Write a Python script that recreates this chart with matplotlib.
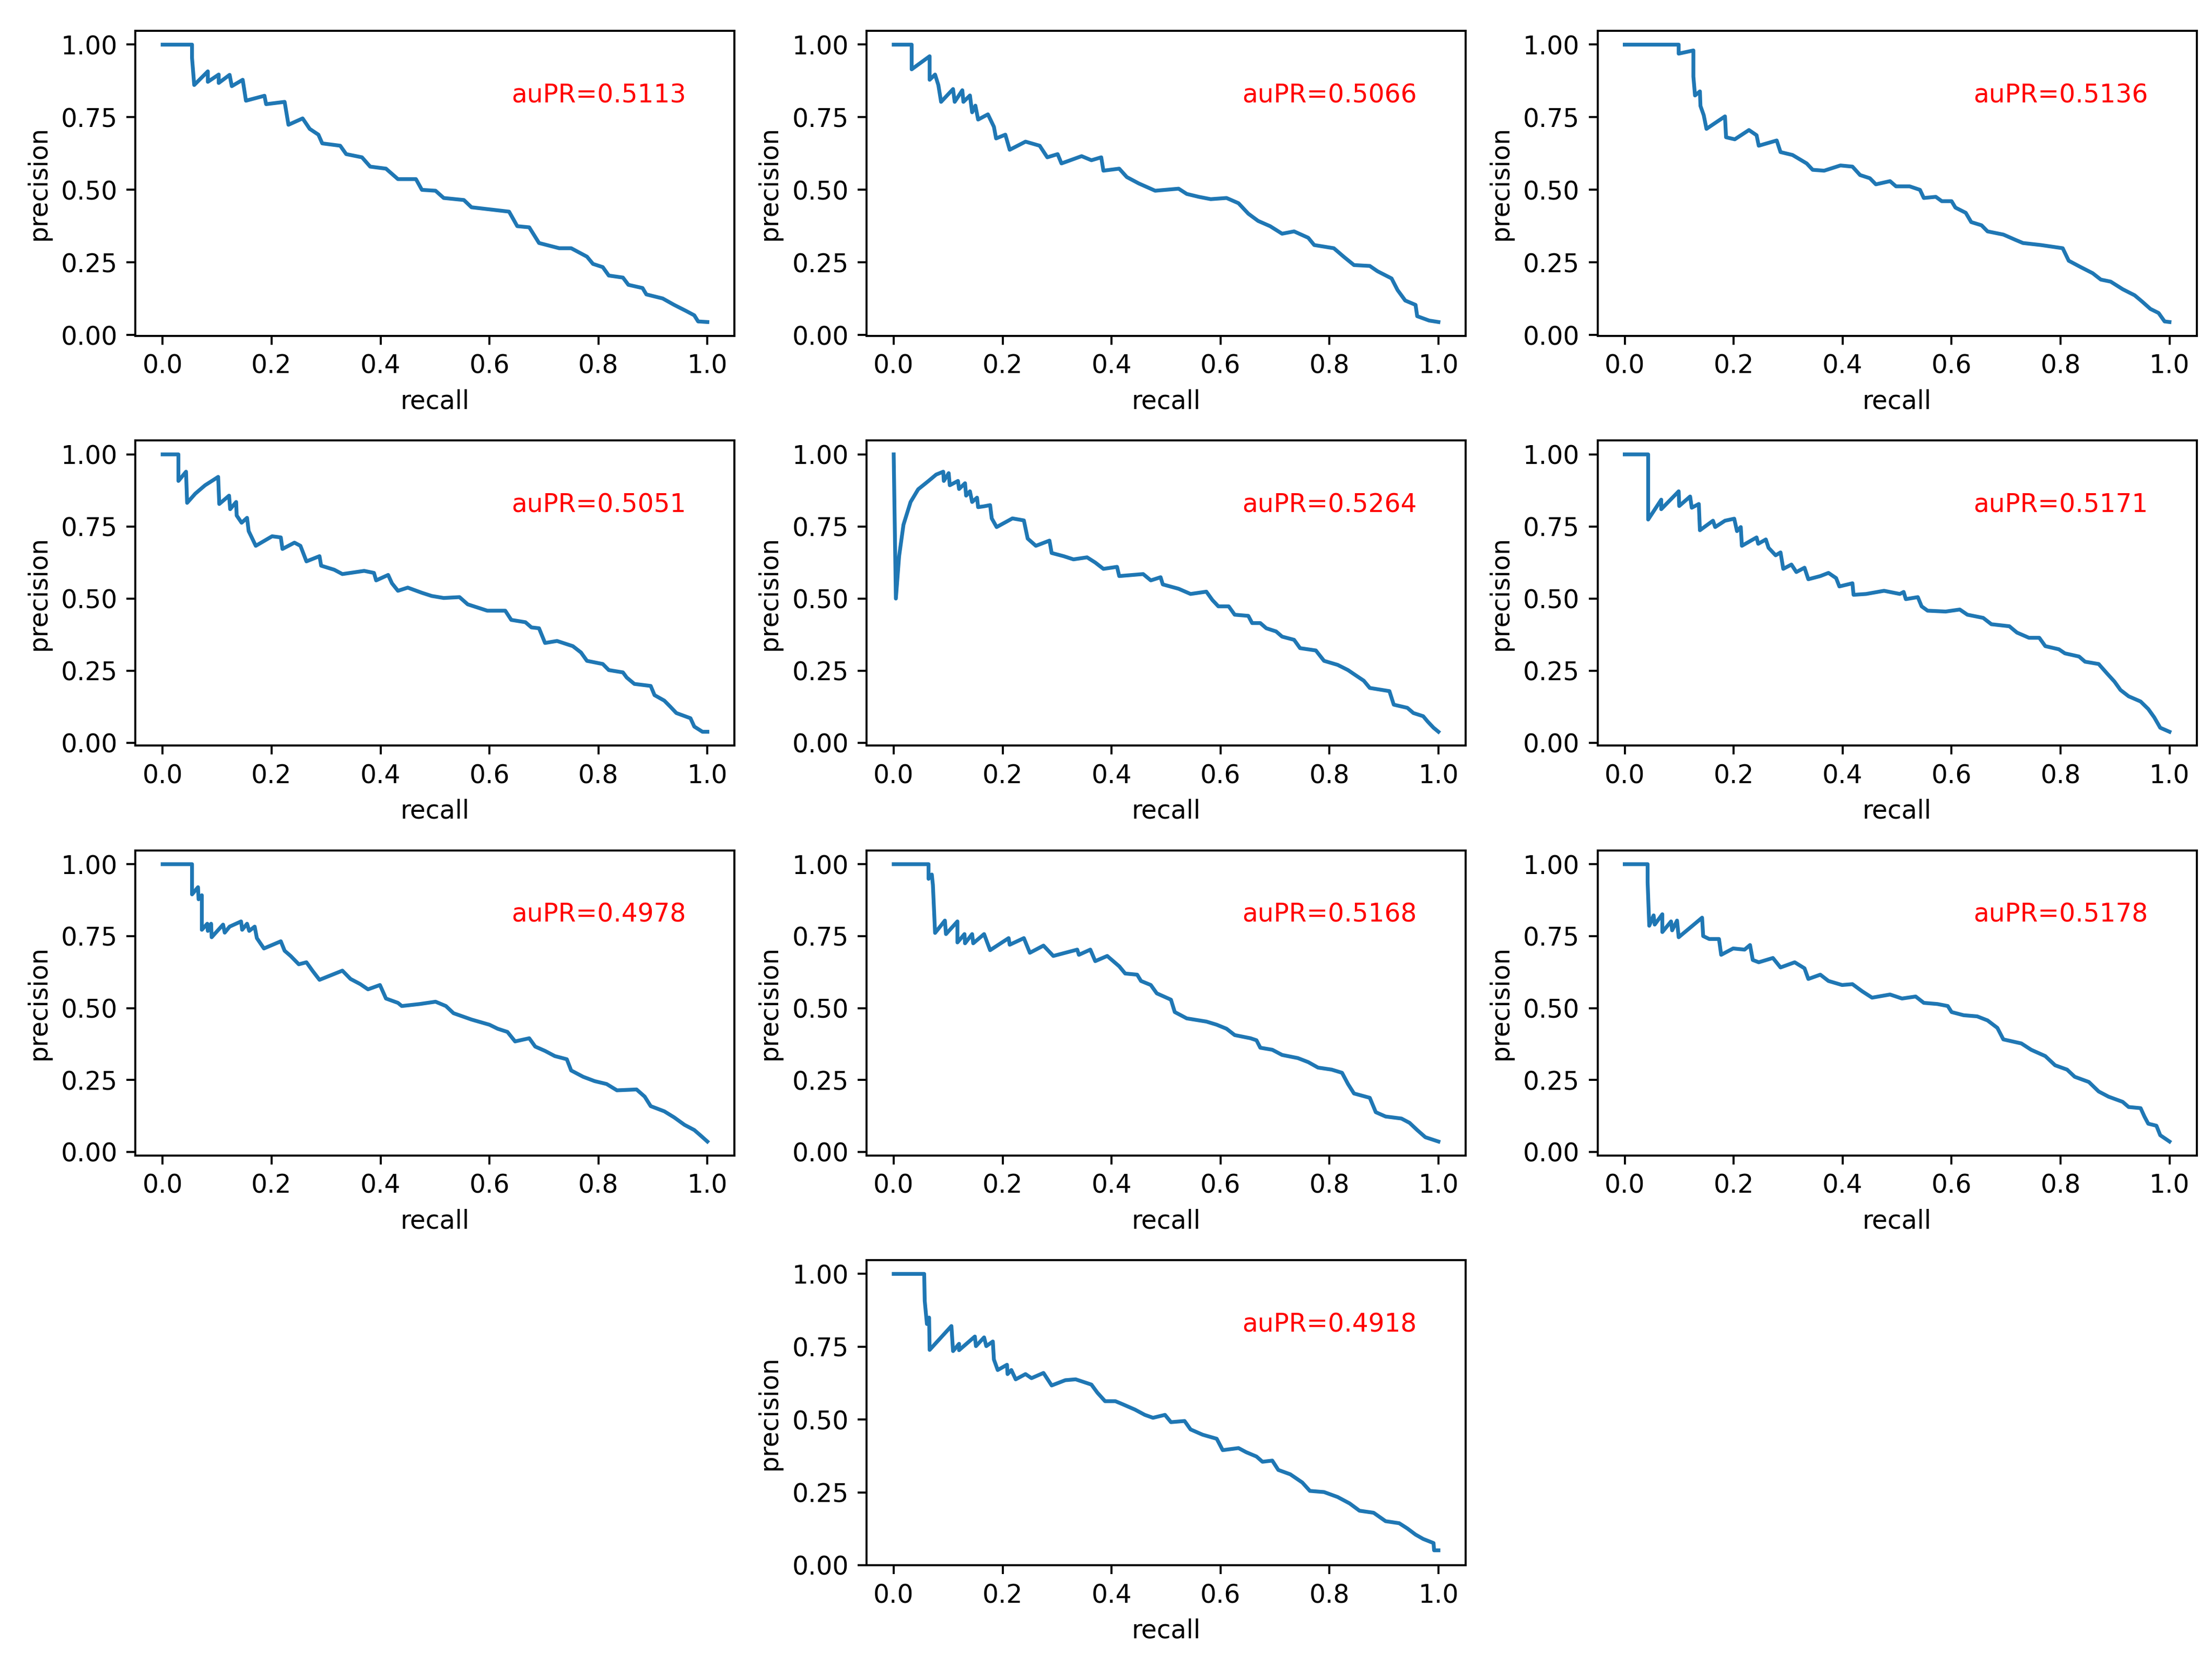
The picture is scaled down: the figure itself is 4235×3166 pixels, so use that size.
import matplotlib as mpl
mpl.use('Agg')
import matplotlib.pyplot as plt
import numpy as np


# auPR value printed on each panel
auprs = [0.5113, 0.5066, 0.5136, 0.5051, 0.5264, 0.5171, 0.4978, 0.5168, 0.5178, 0.4918]

# precision-recall curves
rec1 = [0.0, 0.054, 0.054, 0.058, 0.083, 0.083, 0.103, 0.103, 0.123, 0.127, 0.147, 0.153, 0.187, 0.19, 0.224, 0.231, 0.257, 0.27, 0.286, 0.293, 0.326, 0.337, 0.366, 0.381, 0.41, 0.432, 0.465, 0.476, 0.501, 0.516, 0.553, 0.567, 0.604, 0.636, 0.651, 0.673, 0.691, 0.728, 0.75, 0.779, 0.79, 0.808, 0.819, 0.845, 0.855, 0.881, 0.888, 0.918, 0.939, 0.961, 0.976, 0.983, 1.0]
prec1 = [1.0, 1.0, 0.954, 0.861, 0.908, 0.872, 0.897, 0.868, 0.896, 0.857, 0.879, 0.807, 0.824, 0.795, 0.803, 0.724, 0.746, 0.71, 0.69, 0.66, 0.652, 0.623, 0.612, 0.58, 0.573, 0.537, 0.537, 0.50, 0.497, 0.472, 0.465, 0.44, 0.432, 0.425, 0.375, 0.371, 0.317, 0.299, 0.299, 0.27, 0.245, 0.234, 0.205, 0.198, 0.173, 0.162, 0.14, 0.126, 0.104, 0.083, 0.068, 0.047, 0.045]

rec2 = [0.0, 0.033, 0.033, 0.066, 0.066, 0.076, 0.082, 0.087, 0.109, 0.112, 0.126, 0.128, 0.14, 0.144, 0.15, 0.155, 0.173, 0.184, 0.188, 0.205, 0.213, 0.242, 0.268, 0.282, 0.301, 0.308, 0.345, 0.363, 0.381, 0.385, 0.414, 0.428, 0.45, 0.48, 0.523, 0.538, 0.56, 0.582, 0.611, 0.633, 0.651, 0.669, 0.691, 0.713, 0.735, 0.761, 0.772, 0.808, 0.826, 0.845, 0.874, 0.888, 0.914, 0.925, 0.939, 0.958, 0.961, 0.983, 1.0]
prec2 = [1.0, 1.0, 0.915, 0.96, 0.879, 0.897, 0.861, 0.803, 0.847, 0.803, 0.843, 0.803, 0.825, 0.767, 0.79, 0.742, 0.76, 0.717, 0.677, 0.69, 0.638, 0.666, 0.652, 0.612, 0.623, 0.591, 0.616, 0.602, 0.612, 0.566, 0.573, 0.544, 0.522, 0.497, 0.504, 0.486, 0.476, 0.468, 0.472, 0.454, 0.418, 0.393, 0.375, 0.349, 0.357, 0.335, 0.31, 0.299, 0.27, 0.241, 0.238, 0.22, 0.195, 0.155, 0.119, 0.104, 0.065, 0.05, 0.045]

rec3 = [0.0, 0.099, 0.099, 0.126, 0.126, 0.129, 0.138, 0.139, 0.145, 0.15, 0.184, 0.186, 0.202, 0.228, 0.242, 0.246, 0.279, 0.286, 0.308, 0.334, 0.345, 0.366, 0.396, 0.418, 0.432, 0.45, 0.461, 0.487, 0.498, 0.523, 0.542, 0.549, 0.571, 0.582, 0.6, 0.607, 0.626, 0.636, 0.655, 0.666, 0.695, 0.717, 0.731, 0.764, 0.804, 0.815, 0.837, 0.859, 0.874, 0.892, 0.914, 0.936, 0.95, 0.965, 0.98, 0.991, 1.0]
prec3 = [1.0, 1.0, 0.969, 0.98, 0.89, 0.825, 0.839, 0.789, 0.757, 0.71, 0.753, 0.681, 0.674, 0.706, 0.688, 0.652, 0.67, 0.63, 0.62, 0.591, 0.569, 0.566, 0.584, 0.58, 0.551, 0.54, 0.519, 0.53, 0.512, 0.512, 0.5, 0.472, 0.476, 0.461, 0.461, 0.439, 0.421, 0.389, 0.378, 0.357, 0.346, 0.328, 0.317, 0.31, 0.299, 0.256, 0.234, 0.213, 0.191, 0.184, 0.158, 0.137, 0.115, 0.09, 0.076, 0.047, 0.045]

rec4 = [0.0, 0.029, 0.029, 0.043, 0.045, 0.06, 0.078, 0.102, 0.104, 0.122, 0.124, 0.135, 0.136, 0.145, 0.155, 0.158, 0.171, 0.201, 0.217, 0.22, 0.242, 0.253, 0.264, 0.288, 0.291, 0.315, 0.33, 0.37, 0.388, 0.392, 0.414, 0.421, 0.432, 0.45, 0.476, 0.494, 0.516, 0.545, 0.56, 0.578, 0.596, 0.629, 0.64, 0.666, 0.677, 0.691, 0.702, 0.724, 0.753, 0.768, 0.779, 0.808, 0.819, 0.845, 0.852, 0.866, 0.896, 0.903, 0.921, 0.932, 0.943, 0.969, 0.976, 0.991, 1.0]
prec4 = [1.0, 1.0, 0.908, 0.94, 0.832, 0.864, 0.893, 0.922, 0.828, 0.857, 0.81, 0.835, 0.788, 0.763, 0.78, 0.734, 0.683, 0.716, 0.712, 0.672, 0.694, 0.683, 0.629, 0.647, 0.614, 0.6, 0.585, 0.596, 0.589, 0.563, 0.582, 0.553, 0.527, 0.538, 0.52, 0.509, 0.502, 0.505, 0.48, 0.469, 0.458, 0.458, 0.426, 0.418, 0.4, 0.397, 0.346, 0.353, 0.335, 0.313, 0.284, 0.273, 0.252, 0.244, 0.226, 0.204, 0.197, 0.165, 0.146, 0.125, 0.103, 0.085, 0.056, 0.038, 0.038]

rec5 = [0.0, 0.004, 0.01, 0.018, 0.031, 0.045, 0.064, 0.078, 0.091, 0.092, 0.101, 0.103, 0.118, 0.12, 0.131, 0.133, 0.14, 0.144, 0.153, 0.155, 0.166, 0.177, 0.18, 0.189, 0.218, 0.239, 0.246, 0.261, 0.286, 0.29, 0.312, 0.33, 0.355, 0.37, 0.385, 0.41, 0.414, 0.458, 0.472, 0.49, 0.494, 0.523, 0.545, 0.574, 0.585, 0.596, 0.615, 0.626, 0.651, 0.658, 0.673, 0.684, 0.702, 0.713, 0.735, 0.746, 0.775, 0.79, 0.815, 0.834, 0.848, 0.863, 0.874, 0.91, 0.918, 0.943, 0.954, 0.972, 0.98, 0.991, 1.0]
prec5 = [1.0, 0.5, 0.647, 0.756, 0.835, 0.879, 0.908, 0.93, 0.94, 0.908, 0.935, 0.893, 0.908, 0.88, 0.90, 0.857, 0.872, 0.835, 0.85, 0.817, 0.82, 0.824, 0.778, 0.748, 0.778, 0.771, 0.708, 0.683, 0.701, 0.658, 0.647, 0.636, 0.643, 0.625, 0.603, 0.61, 0.578, 0.585, 0.563, 0.574, 0.549, 0.534, 0.516, 0.524, 0.495, 0.473, 0.473, 0.444, 0.44, 0.415, 0.415, 0.397, 0.386, 0.368, 0.357, 0.328, 0.32, 0.284, 0.27, 0.252, 0.234, 0.215, 0.19, 0.179, 0.132, 0.121, 0.103, 0.092, 0.074, 0.052, 0.038]

rec6 = [0.0, 0.043, 0.043, 0.067, 0.067, 0.099, 0.1, 0.12, 0.123, 0.136, 0.138, 0.162, 0.166, 0.184, 0.201, 0.206, 0.213, 0.215, 0.242, 0.245, 0.259, 0.264, 0.277, 0.286, 0.291, 0.306, 0.315, 0.33, 0.337, 0.359, 0.374, 0.388, 0.394, 0.418, 0.42, 0.443, 0.476, 0.505, 0.512, 0.516, 0.538, 0.545, 0.556, 0.589, 0.615, 0.629, 0.658, 0.673, 0.706, 0.72, 0.742, 0.761, 0.772, 0.797, 0.808, 0.834, 0.845, 0.87, 0.885, 0.899, 0.91, 0.925, 0.947, 0.961, 0.972, 0.983, 1.0]
prec6 = [1.0, 1.0, 0.774, 0.843, 0.81, 0.872, 0.821, 0.854, 0.815, 0.828, 0.737, 0.77, 0.748, 0.77, 0.777, 0.734, 0.748, 0.683, 0.712, 0.69, 0.705, 0.676, 0.65, 0.66, 0.603, 0.618, 0.592, 0.607, 0.567, 0.578, 0.589, 0.571, 0.542, 0.553, 0.513, 0.516, 0.527, 0.516, 0.523, 0.498, 0.505, 0.473, 0.458, 0.455, 0.462, 0.444, 0.433, 0.411, 0.404, 0.382, 0.364, 0.364, 0.335, 0.324, 0.31, 0.299, 0.281, 0.273, 0.241, 0.212, 0.183, 0.161, 0.143, 0.117, 0.088, 0.052, 0.038]

rec7 = [0.0, 0.054, 0.054, 0.065, 0.066, 0.072, 0.072, 0.082, 0.083, 0.089, 0.09, 0.111, 0.114, 0.123, 0.144, 0.146, 0.155, 0.159, 0.169, 0.173, 0.186, 0.217, 0.224, 0.235, 0.25, 0.264, 0.275, 0.288, 0.33, 0.345, 0.363, 0.377, 0.399, 0.41, 0.432, 0.439, 0.472, 0.501, 0.52, 0.534, 0.567, 0.6, 0.615, 0.633, 0.647, 0.673, 0.684, 0.702, 0.72, 0.742, 0.75, 0.772, 0.793, 0.815, 0.834, 0.87, 0.885, 0.896, 0.921, 0.939, 0.958, 0.976, 0.987, 1.0]
prec7 = [1.0, 1.0, 0.895, 0.92, 0.878, 0.892, 0.772, 0.793, 0.768, 0.793, 0.746, 0.79, 0.762, 0.783, 0.801, 0.772, 0.793, 0.768, 0.783, 0.743, 0.707, 0.732, 0.699, 0.681, 0.652, 0.659, 0.63, 0.598, 0.63, 0.601, 0.583, 0.565, 0.58, 0.533, 0.518, 0.507, 0.514, 0.522, 0.507, 0.482, 0.46, 0.442, 0.428, 0.417, 0.384, 0.395, 0.366, 0.351, 0.333, 0.322, 0.283, 0.261, 0.246, 0.236, 0.214, 0.217, 0.192, 0.159, 0.141, 0.12, 0.094, 0.076, 0.058, 0.036]

rec8 = [0.0, 0.064, 0.064, 0.07, 0.072, 0.076, 0.094, 0.096, 0.117, 0.117, 0.13, 0.131, 0.144, 0.146, 0.166, 0.177, 0.211, 0.213, 0.239, 0.25, 0.275, 0.293, 0.337, 0.34, 0.361, 0.37, 0.392, 0.414, 0.425, 0.447, 0.454, 0.472, 0.483, 0.509, 0.516, 0.538, 0.574, 0.593, 0.611, 0.626, 0.655, 0.666, 0.673, 0.695, 0.713, 0.742, 0.761, 0.779, 0.804, 0.823, 0.834, 0.845, 0.874, 0.885, 0.903, 0.932, 0.947, 0.961, 0.976, 1.0]
prec8 = [1.0, 1.0, 0.949, 0.964, 0.928, 0.761, 0.804, 0.757, 0.801, 0.728, 0.757, 0.725, 0.757, 0.725, 0.757, 0.701, 0.743, 0.72, 0.743, 0.692, 0.717, 0.681, 0.703, 0.685, 0.703, 0.663, 0.681, 0.645, 0.62, 0.616, 0.594, 0.58, 0.551, 0.529, 0.486, 0.464, 0.453, 0.442, 0.428, 0.406, 0.395, 0.388, 0.362, 0.355, 0.337, 0.326, 0.312, 0.293, 0.286, 0.275, 0.236, 0.203, 0.188, 0.138, 0.123, 0.116, 0.101, 0.076, 0.051, 0.036]

rec9 = [0.0, 0.042, 0.042, 0.045, 0.053, 0.055, 0.069, 0.069, 0.085, 0.087, 0.096, 0.099, 0.142, 0.144, 0.155, 0.173, 0.177, 0.199, 0.22, 0.23, 0.235, 0.246, 0.272, 0.286, 0.312, 0.33, 0.337, 0.359, 0.374, 0.399, 0.418, 0.436, 0.454, 0.487, 0.509, 0.534, 0.549, 0.574, 0.593, 0.6, 0.622, 0.647, 0.666, 0.684, 0.695, 0.728, 0.746, 0.772, 0.79, 0.812, 0.826, 0.852, 0.87, 0.888, 0.914, 0.925, 0.947, 0.954, 0.961, 0.976, 0.983, 1.0]
prec9 = [1.0, 1.0, 0.938, 0.786, 0.822, 0.79, 0.826, 0.764, 0.801, 0.77, 0.804, 0.746, 0.814, 0.75, 0.74, 0.74, 0.685, 0.707, 0.703, 0.719, 0.667, 0.659, 0.674, 0.641, 0.659, 0.638, 0.601, 0.616, 0.594, 0.58, 0.583, 0.558, 0.536, 0.547, 0.533, 0.54, 0.518, 0.514, 0.507, 0.486, 0.475, 0.471, 0.457, 0.431, 0.391, 0.377, 0.355, 0.333, 0.301, 0.286, 0.261, 0.243, 0.21, 0.192, 0.174, 0.156, 0.152, 0.123, 0.098, 0.091, 0.058, 0.036]

rec10 = [0.0, 0.056, 0.057, 0.061, 0.065, 0.066, 0.106, 0.109, 0.12, 0.12, 0.149, 0.151, 0.166, 0.17, 0.182, 0.184, 0.191, 0.208, 0.209, 0.216, 0.224, 0.242, 0.253, 0.275, 0.29, 0.315, 0.334, 0.363, 0.374, 0.388, 0.407, 0.421, 0.443, 0.461, 0.476, 0.498, 0.509, 0.534, 0.545, 0.567, 0.593, 0.604, 0.633, 0.647, 0.666, 0.677, 0.695, 0.706, 0.728, 0.75, 0.764, 0.79, 0.815, 0.837, 0.855, 0.881, 0.903, 0.928, 0.943, 0.958, 0.972, 0.991, 0.992, 1.0]
prec10 = [1.0, 1.0, 0.907, 0.828, 0.85, 0.739, 0.821, 0.735, 0.76, 0.738, 0.785, 0.752, 0.782, 0.752, 0.768, 0.706, 0.67, 0.688, 0.656, 0.67, 0.638, 0.656, 0.642, 0.66, 0.617, 0.635, 0.638, 0.62, 0.592, 0.563, 0.563, 0.552, 0.534, 0.516, 0.506, 0.516, 0.491, 0.495, 0.466, 0.448, 0.434, 0.395, 0.402, 0.388, 0.373, 0.355, 0.359, 0.327, 0.312, 0.284, 0.255, 0.251, 0.234, 0.212, 0.187, 0.18, 0.151, 0.144, 0.126, 0.105, 0.09, 0.076, 0.051, 0.051]

recalls = [rec1, rec2, rec3, rec4, rec5, rec6, rec7, rec8, rec9, rec10]
precisions = [prec1, prec2, prec3, prec4, prec5, prec6, prec7, prec8, prec9, prec10]

# grid slots used (4x3 grid, last row only the middle one)
slots = [1, 2, 3, 4, 5, 6, 7, 8, 9, 11]

DPI = 350


def plot():
    fig = plt.figure(figsize=(4235/DPI, 3166/DPI))
    fig.subplots_adjust(left=0.0612, right=0.9931, top=0.9814, bottom=0.0537,
                        wspace=0.22, hspace=0.343)

    for k in range(len(slots)):
        ax = fig.add_subplot(4, 3, slots[k])
        ax.plot(np.array(recalls[k]), np.array(precisions[k]), color='#1f77b4')
        ax.text(0.64, 0.8, 'auPR=%.4f' % auprs[k], color='red')
        ax.set_xlabel('recall')
        ax.set_ylabel('precision')
        ax.set_xticks([0.0, 0.2, 0.4, 0.6, 0.8, 1.0])
        ax.set_yticks([0.0, 0.25, 0.5, 0.75, 1.0])

    return fig


def main():
    fig = plot()
    fig.savefig('out.png', dpi=DPI)


if __name__ == '__main__':
    main()
